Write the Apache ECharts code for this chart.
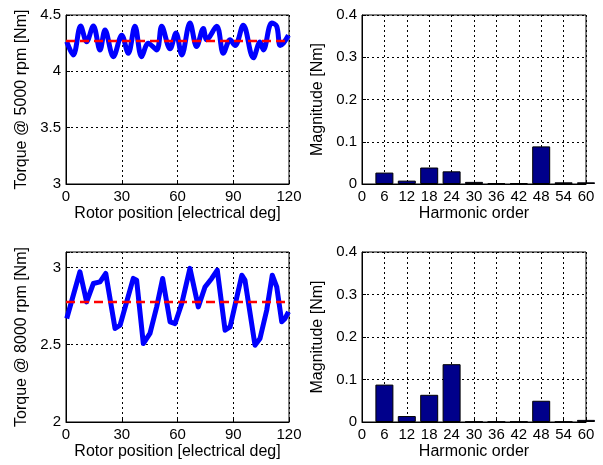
<!DOCTYPE html>
<html><head><meta charset="utf-8">
<script src="https://cdn.jsdelivr.net/npm/echarts@6/dist/echarts.min.js"></script>
<style>html,body{margin:0;padding:0;background:#fff}#c{width:603px;height:465px}</style>
</head><body><div id="c"></div>
<script>
// Rotor position [deg] and torque samples @ 5000 rpm
const pos5000 = [0.4,3.9,7.9,11.1,14.7,18.3,21,25.5,30,33.5,37.1,40.7,44.3,48.8,51.5,56,59.2,62.3,66.7,70.3,73.9,75.7,81.1,84.7,88.3,91,95.4,100.8,104.4,106.2,110.7,113.4,115.2,117,119.7];
const torque5000 = [4.263,4.145,4.402,4.263,4.402,4.19,4.367,4.13,4.32,4.16,4.40,4.13,4.25,4.19,4.40,4.20,4.34,4.145,4.43,4.22,4.38,4.28,4.40,4.16,4.28,4.23,4.41,4.12,4.26,4.19,4.43,4.40,4.23,4.25,4.32];
const mean5000 = 4.27;
// Rotor position [deg] and torque samples @ 8000 rpm
const pos8000 = [0.4,7.5,11.1,14.7,18.3,21.4,26.4,29.1,36.2,38,41.6,45.2,48.8,52,56,58.7,62.3,66.7,71.2,74.8,78.4,81.4,85.6,88.3,94.6,96.3,101.7,104.4,108,111,113.4,116.1,117.9,119.7];
const torque8000 = [2.670,2.972,2.777,2.896,2.907,2.961,2.605,2.626,2.929,2.918,2.508,2.573,2.745,2.929,2.648,2.637,2.767,2.994,2.745,2.874,2.929,2.983,2.594,2.615,2.950,2.918,2.497,2.540,2.723,2.950,2.874,2.648,2.670,2.712];
const mean8000 = 2.777;
// Harmonic spectra
const harmonicOrder = [6,12,18,24,30,36,42,48,54,60];
const harm5000 = [0.027,0.008,0.039,0.030,0.005,0.002,0.002,0.089,0.004,0.004];
const harm8000 = [0.088,0.014,0.064,0.136,0.001,0.001,0.001,0.050,0.001,0.005];
const torqueTicks8000 = [2,2.5,3];

const FONT = 'Liberation Sans, Arial, sans-serif';
const txt = {color:'#000', fontFamily:FONT, fontSize:15};
const nameTxt = {color:'#000', fontFamily:FONT, fontSize:16};
const zip = (a,b)=>a.map((v,i)=>[v,b[i]]);

const grids = [
  {left:66, top:15, width:223, height:169},
  {left:362, top:15, width:224, height:169},
  {left:66, top:252, width:223, height:170},
  {left:362, top:252, width:224, height:170}
].map(g=>Object.assign(g,{show:true,borderColor:'#000',borderWidth:1,backgroundColor:'transparent'}));

function xAx(gi,min,max,interval,name){
  return {type:'value',gridIndex:gi,min,max,interval,name,nameLocation:'middle',nameGap:22,
    nameTextStyle:Object.assign({},nameTxt,{verticalAlign:'top'}),
    axisLine:{show:true,onZero:false,lineStyle:{color:'#000',width:1}},
    axisTick:{show:true,inside:true,length:4,lineStyle:{color:'#000'}},
    axisLabel:Object.assign({},txt,{margin:5}),
    splitLine:{show:true,lineStyle:{color:'#000',type:[2,3],width:1}}};
}
function yAx(gi,min,max,interval,name,fmt){
  const a = {type:'value',gridIndex:gi,min,max,interval,name,nameLocation:'middle',nameGap:36,
    nameTextStyle:nameTxt,
    axisLine:{show:true,onZero:false,lineStyle:{color:'#000',width:1}},
    axisTick:{show:true,inside:true,length:4,lineStyle:{color:'#000'}},
    axisLabel:Object.assign({},txt,{margin:5}),
    splitLine:{show:true,lineStyle:{color:'#000',type:[2,3],width:1}}};
  if(fmt) a.axisLabel.formatter = fmt;
  return a;
}

const chart = echarts.init(document.getElementById('c'),null,{renderer:'canvas'});
chart.setOption({
  animation:false,
  backgroundColor:'#fff',
  grid:grids,
  xAxis:[
    xAx(0,0,120,30,'Rotor position [electrical deg]'),
    xAx(1,0,60,6,'Harmonic order'),
    xAx(2,0,120,30,'Rotor position [electrical deg]'),
    xAx(3,0,60,6,'Harmonic order')
  ],
  yAxis:[
    yAx(0,3,4.5,0.5,'Torque @ 5000 rpm [Nm]'),
    yAx(1,0,0.4,0.1,'Magnitude [Nm]'),
    yAx(2,2,3.1,0.5,'Torque @ 8000 rpm [Nm]', v => torqueTicks8000.some(t=>Math.abs(t-v)<1e-6) ? String(v) : ''),
    yAx(3,0,0.4,0.1,'Magnitude [Nm]')
  ],
  series:[
    {type:'line',xAxisIndex:0,yAxisIndex:0,data:zip(pos5000,torque5000),smooth:0.35,showSymbol:false,
      lineStyle:{color:'#0000ff',width:5},z:2},
    {type:'line',xAxisIndex:0,yAxisIndex:0,data:[[0,mean5000],[120,mean5000]],showSymbol:false,
      lineStyle:{color:'#ff0000',width:2.5,type:[9,5]},z:3},
    {type:'bar',xAxisIndex:1,yAxisIndex:1,data:zip(harmonicOrder,harm5000),barWidth:18,clip:true,
      itemStyle:{color:'#00008b',borderColor:'#000',borderWidth:1}},
    {type:'line',xAxisIndex:2,yAxisIndex:2,data:zip(pos8000,torque8000),smooth:false,showSymbol:false,
      lineStyle:{color:'#0000ff',width:5,join:'round'},z:2},
    {type:'line',xAxisIndex:2,yAxisIndex:2,data:[[0,mean8000],[120,mean8000]],showSymbol:false,
      lineStyle:{color:'#ff0000',width:2.5,type:[9,5]},z:3},
    {type:'bar',xAxisIndex:3,yAxisIndex:3,data:zip(harmonicOrder,harm8000),barWidth:18,clip:true,
      itemStyle:{color:'#00008b',borderColor:'#000',borderWidth:1}}
  ]
});
</script></body></html>
